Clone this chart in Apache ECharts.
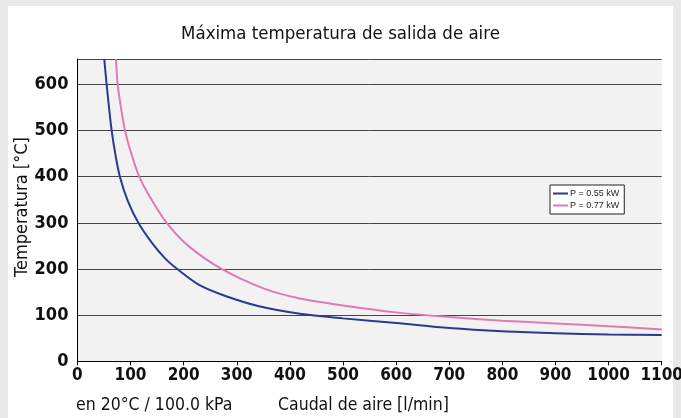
<!DOCTYPE html>
<html>
<head>
<meta charset="utf-8">
<script src="https://cdn.jsdelivr.net/npm/echarts@6/dist/echarts.min.js"></script>
<style>
html,body{margin:0;padding:0;background:#e8e8e8;}
#chart{width:681px;height:418px;}
</style>
</head>
<body>
<div id="chart"></div>
<script>
var titleText = 'Máxima temperatura de salida de aire';
var yAxisTitle = 'Temperatura [°C]';
var conditionText = 'en 20°C / 100.0 kPa';
var xAxisTitle = 'Caudal de aire [l/min]';
var seriesNames = ['P = 0.55 kW', 'P = 0.77 kW'];

var flow055 = [50.6, 55, 60, 64.5, 72, 80, 95, 114.7, 140, 165, 188, 230, 280, 340, 419, 500, 600, 700, 800, 900, 1000, 1100];
var temp055 = [655, 600, 545, 500, 445, 400, 347, 300, 257, 223, 200, 165, 141, 120, 103, 93, 83, 72, 65, 61, 58, 57];

var flow077 = [72.7, 75.8, 82, 89.6, 102, 116.5, 135, 168, 210, 271.6, 350, 419, 500, 600, 700, 800, 900, 1000, 1100];
var temp077 = [655, 600, 550, 500, 448, 400, 359, 300, 249, 200, 158, 136, 121, 106, 96, 88, 82, 76, 69];

function pairs(xs, ys) { return xs.map(function (x, i) { return [x, ys[i]]; }); }

var FONT = '"DejaVu Sans Condensed", "Liberation Sans", sans-serif';

var chart = echarts.init(document.getElementById('chart'));
chart.setOption({
  backgroundColor: '#e8e8e8',
  animation: false,
  graphic: [
    { type: 'rect', z: -10, shape: { x: 8, y: 6, width: 665, height: 420 }, style: { fill: '#ffffff' } },
    { type: 'text', x: 22, y: 207, rotation: Math.PI / 2,
      style: { text: yAxisTitle, fontSize: 18, fontFamily: FONT, fill: '#111', textAlign: 'center', textVerticalAlign: 'middle' } },
    { type: 'text', x: 76, y: 405,
      style: { text: conditionText, fontSize: 17.5, fontFamily: FONT, fill: '#111', textAlign: 'left', textVerticalAlign: 'middle' } },
    { type: 'text', x: 278, y: 405,
      style: { text: xAxisTitle, fontSize: 17.5, fontFamily: FONT, fill: '#111', textAlign: 'left', textVerticalAlign: 'middle' } }
  ],
  title: {
    text: titleText, left: 'center', top: 20,
    textStyle: { fontSize: 18.5, fontWeight: 'normal', fontFamily: FONT, color: '#111' }
  },
  legend: {
    orient: 'vertical', left: 550, top: 185,
    backgroundColor: '#ffffff', borderColor: '#222', borderWidth: 1,
    padding: [4, 5, 4, 3], itemGap: 3, itemWidth: 15, itemHeight: 2, icon: 'rect',
    textStyle: { fontSize: 9, fontFamily: '"Liberation Sans", sans-serif', color: '#222', padding: [0, 0, 0, -3] },
    data: seriesNames
  },
  grid: { left: 77.4, right: 19.3, top: 59, bottom: 56.7, show: true, backgroundColor: '#f2f2f2', borderWidth: 0,
    containLabel: false, outerBoundsMode: 'none' },
  xAxis: {
    type: 'value', min: 0, max: 1100, interval: 100,
    axisLine: { show: true, lineStyle: { color: '#000', width: 1 } },
    axisTick: { show: true, length: 4, lineStyle: { color: '#000' } },
    axisLabel: { margin: 6, fontSize: 17, fontWeight: 'bold', fontFamily: FONT, color: '#111', showMaxLabel: true, showMinLabel: true, hideOverlap: false,
      formatter: function (v) { return String(v); } },
    splitLine: { show: false }
  },
  yAxis: {
    type: 'value', min: 0, max: 655, interval: 100,
    axisLine: { show: true, lineStyle: { color: '#000', width: 1 } },
    axisTick: { show: false },
    axisLabel: { margin: 9, fontSize: 18, fontWeight: 'bold', fontFamily: FONT, color: '#111', showMaxLabel: false,
      formatter: function (v) { return String(v); } },
    splitLine: { show: true, lineStyle: { color: '#444', width: 1 } }
  },
  series: [
    { name: seriesNames[0], type: 'line', smooth: 0.3, showSymbol: false, clip: true,
      lineStyle: { color: '#2b3990', width: 2 }, itemStyle: { color: '#2b3990' },
      data: pairs(flow055, temp055) },
    { name: seriesNames[1], type: 'line', smooth: 0.3, showSymbol: false, clip: true,
      lineStyle: { color: '#e07ab5', width: 2 }, itemStyle: { color: '#e07ab5' },
      data: pairs(flow077, temp077) }
  ]
});
</script>
</body>
</html>
